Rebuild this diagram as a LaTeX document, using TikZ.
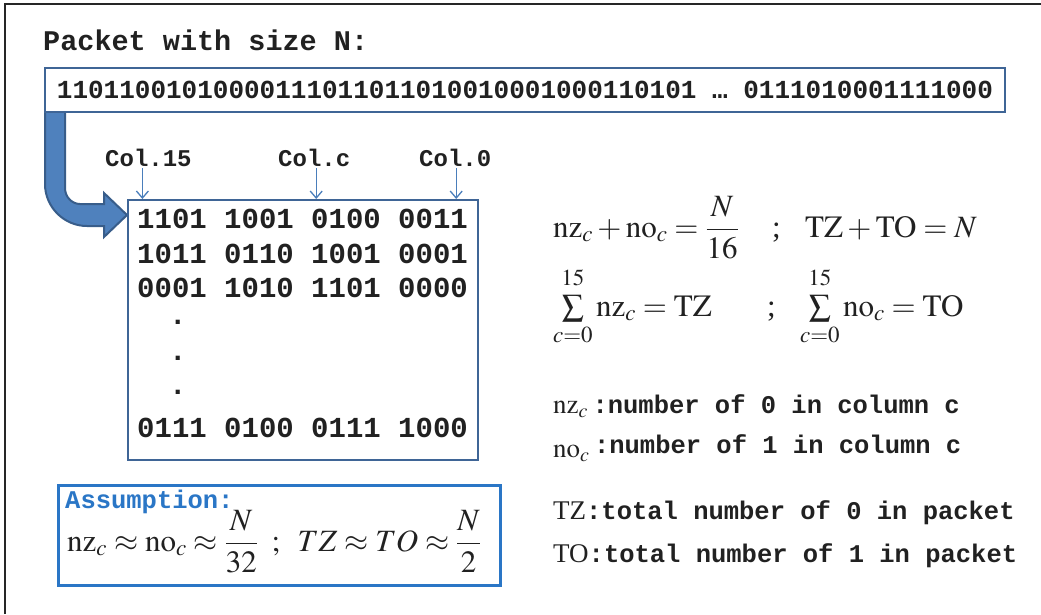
\documentclass[tikz,border=0pt]{standalone}
\usepackage{mathptmx}
\usepackage{fontspec}
\setmainfont{Liberation Serif}
\setmonofont{Liberation Mono}
\usetikzlibrary{arrows.meta}
\definecolor{boxblue}{HTML}{3F6596}
\definecolor{fatfill}{HTML}{4F81BD}
\definecolor{fatline}{HTML}{385D8A}
\definecolor{colblue}{HTML}{4A7EBB}
\definecolor{assblue}{HTML}{2A76C6}
\begin{document}
\begin{tikzpicture}[
  x=1pt,y=-1pt,
  every node/.style={inner sep=0pt,text=black!87},
  frameline/.style={line width=1.2pt,black!85},
  title/.style={anchor=base west,font=\ttfamily\bfseries\fontsize{28.5}{30}\selectfont},
  bitbox/.style={draw=boxblue,line width=2pt,fill=white,minimum width=960pt,minimum height=44pt,
    font=\ttfamily\bfseries\fontsize{26}{28}\selectfont},
  gridbox/.style={draw=boxblue,line width=2pt,fill=white,minimum width=350pt,minimum height=260pt},
  rowtext/.style={anchor=base west,font=\ttfamily\bfseries\fontsize{29}{30}\selectfont},
  collabel/.style={anchor=base west,font=\ttfamily\bfseries\fontsize{24}{26}\selectfont},
  colarrow/.style={colblue,line width=1.3pt,-{Straight Barb[length=7pt,width=12pt]}},
  fatarrow/.style={fill=fatfill,draw=fatline,line width=2pt,line join=miter},
  eq/.style={anchor=base west,font=\fontsize{31}{33}\selectfont},
  countdesc/.style={anchor=base west,font=\fontsize{27}{29}\selectfont},
  assbox/.style={draw=assblue,line width=3pt,minimum width=442pt,minimum height=100pt},
  asstitle/.style={anchor=base west,text=assblue,font=\ttfamily\bfseries\fontsize{25.5}{27}\selectfont}
]
\useasboundingbox (0,0) rectangle (1041,614);
\draw[frameline] (5,614) -- (5,4) -- (1041,4);

% packet
\node[title] (title) at (43,50) {Packet with size N:};
\draw[fatarrow] (65,110) -- (65,188) .. controls (65,197) and (72,204) .. (80,204) -- (104,204)
  -- (104,193) -- (127,215) -- (104,237) -- (104,226) -- (87,226)
  .. controls (64,226) and (45,207) .. (45,184) -- (45,110) -- cycle;
\node[bitbox] (packet) at (525,90) {11011001010000111011011010010001000110101 … 0111010001111000};

% matrix of 16 columns
\node[gridbox] (grid) at (303,330) {};
\foreach \y/\txt [count=\i] in {228/{1101 1001 0100 0011},263/{1011 0110 1001 0001},
    297/{0001 1010 1101 0000},437/{0111 0100 0111 1000}}
  \node[rowtext] (row\i) at (137,\y) {\txt};
\foreach \y [count=\i] in {324,360,394}
  \node[rowtext] (dot\i) at (169,\y) {.};

\node[collabel] (col15) at (105,166) {Col.15};
\node[collabel] (colc) at (278,166) {Col.c};
\node[collabel] (col0) at (419,166) {Col.0};
\coordinate (a15) at ([xshift=-6pt,yshift=-2pt]col15.south);
\coordinate (ac) at ([xshift=2pt,yshift=-2pt]colc.south);
\coordinate (a0) at ([xshift=1pt,yshift=-2pt]col0.south);
\foreach \a in {a15,ac,a0}
  \draw[colarrow] (\a) -- (\a |- grid.north);

% equations
\node[eq] (eq1) at (553,237) {$\mathrm{nz}_c+\mathrm{no}_c=\displaystyle\frac{N}{16}$};
\node[eq] (sep1) at (772,237) {;};
\node[eq] (eq2) at (805,237) {$\mathrm{TZ}+\mathrm{TO}=N$};
\node[eq] (eq3) at (553,316) {$\sum\limits_{c=0}^{\raisebox{3pt}{$\scriptstyle15$}}\mathrm{nz}_c=\mathrm{TZ}$};
\node[eq] (sep2) at (767,316) {;};
\node[eq] (eq4) at (800,316) {$\sum\limits_{c=0}^{\raisebox{3pt}{$\scriptstyle15$}}\mathrm{no}_c=\mathrm{TO}$};

% meaning of the counts
\node[countdesc] (dnz) at (553,413) {$\mathrm{nz}_c$\,{\ttfamily\bfseries\fontsize{25.5}{27}\selectfont:number of 0 in column c}};
\node[countdesc] (dno) at (553,457) {$\mathrm{no}_c$\,\raisebox{4pt}{\ttfamily\bfseries\fontsize{25.5}{27}\selectfont:number of 1 in column c}};
\node[countdesc] (dtz) at (553,519) {TZ{\ttfamily\bfseries\fontsize{25.5}{27}\selectfont:total number of 0 in packet}};
\node[countdesc] (dto) at (553,562) {TO{\ttfamily\bfseries\fontsize{25.5}{27}\selectfont:total number of 1 in packet}};

% assumption
\node[assbox] (assume) at (279,535) {};
\node[asstitle] (asshead) at (65,508) {Assumption:};
\node[eq,font=\fontsize{31}{33}\selectfont] (assform) at (67,551)
  {$\mathrm{nz}_c\approx\mathrm{no}_c\approx\displaystyle\frac{N}{32}\;\;;\;\;TZ\approx TO\approx\frac{N}{2}$};
\end{tikzpicture}
\end{document}
